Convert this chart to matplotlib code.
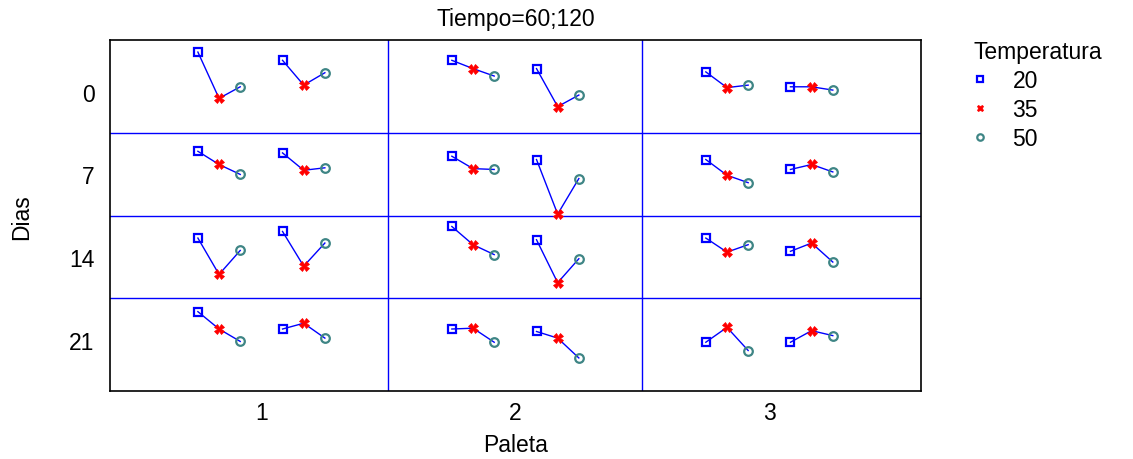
import matplotlib
matplotlib.use("Agg")
import matplotlib.pyplot as plt
from matplotlib.lines import Line2D

# Factors
dias = [0, 7, 14, 21]
paletas = [1, 2, 3]
tiempos = [60, 120]
temperaturas = [20, 35, 50]

# Mean response per day: for each paleta, [Tiempo 60 (20,35,50), Tiempo 120 (20,35,50)]
# (relative units)
resp_dia0 = [[[48, -8, 6], [38, 8, 23]],
             [[38, 28, 19], [28, -18, -4]],
             [[24, 5, 8], [6, 6, 2]]]
resp_dia7 = [[[28, 12, 0], [26, 5, 8]],
             [[22, 7, 6], [18, -48, -5]],
             [[18, -1, -10], [6, 12, 3]]]
resp_dia14 = [[[23, -21, 8], [31, -11, 17]],
              [[37, 15, 3], [21, -31, -2]],
              [[23, 6, 15], [7, 17, -6]]]
resp_dia21 = [[[34, 13, -2], [13, 20, 2]],
              [[13, 14, -3], [10, 2, -22]],
              [[-3, 15, -13], [-3, 11, 5]]]
respuestas = [resp_dia0, resp_dia7, resp_dia14, resp_dia21]

BLUE = "#0000FF"
RED = "#FF0000"
TEAL = "#3E8585"
FONT = "Liberation Sans"
FS = 16.5
plt.rcParams["font.family"] = FONT

markers = {20: dict(marker="s", mfc="none", mec=BLUE, ms=5.5, mew=1.6),
           35: dict(marker="X", mfc=RED, mec=RED, ms=6.5, mew=0.5),
           50: dict(marker="o", mfc="none", mec=TEAL, ms=6.2, mew=1.6)}

fig = plt.figure(figsize=(11.33, 4.6), dpi=100)
ax = fig.add_axes([0.0971, 0.1478, 0.7155, 0.762])

row_scale = 100.0  # response units per row height
for i, dia in enumerate(dias):
    for j, pal in enumerate(paletas):
        for k, tiempo in enumerate(tiempos):
            vals = respuestas[i][j][k]
            base = (-3 if k == 0 else 1)
            xs = [pal + (base + n) / 12 for n in range(3)]
            ys = [i - v / row_scale for v in vals]
            ax.plot(xs, ys, color=BLUE, lw=1.0, zorder=2)
            for x, y, t in zip(xs, ys, temperaturas):
                ax.plot([x], [y], ls="none", zorder=3, **markers[t])

# cell dividers
for yb in [0.5, 1.5, 2.5]:
    ax.axhline(yb, color=BLUE, lw=1.0, zorder=1)
for xb in [1.5, 2.5]:
    ax.axvline(xb, color=BLUE, lw=1.0, zorder=1)

ax.set_xlim(0.404, 3.596)
ax.set_ylim(3.62, -0.62)
ax.set_xticks(paletas)
ax.set_xticklabels([str(p) for p in paletas])
ax.set_yticks(range(len(dias)))
ax.set_yticklabels([str(d) for d in dias])
ax.tick_params(length=0, labelsize=FS, pad=11)
ax.tick_params(axis="x", pad=7)
for s in ax.spines.values():
    s.set_color("black")
    s.set_linewidth(1.2)

ax.set_title("Tiempo=60;120", fontsize=FS, pad=11)
ax.set_xlabel("Paleta", fontsize=FS, labelpad=7)
ax.set_ylabel("Dias", fontsize=FS, labelpad=26)

handles = [Line2D([], [], ls="none", **{**markers[t], "ms": markers[t]["ms"] * 0.75})
           for t in temperaturas]
leg = fig.legend(handles, [str(t) for t in temperaturas], title="Temperatura",
                 loc="upper left", bbox_to_anchor=(0.845, 0.945), frameon=False,
                 fontsize=FS, title_fontsize=FS, handlelength=0.6,
                 handletextpad=1.1, labelspacing=0.25, borderpad=0.2)
leg._legend_box.align = "left"

fig.savefig("out.png", dpi=100)
